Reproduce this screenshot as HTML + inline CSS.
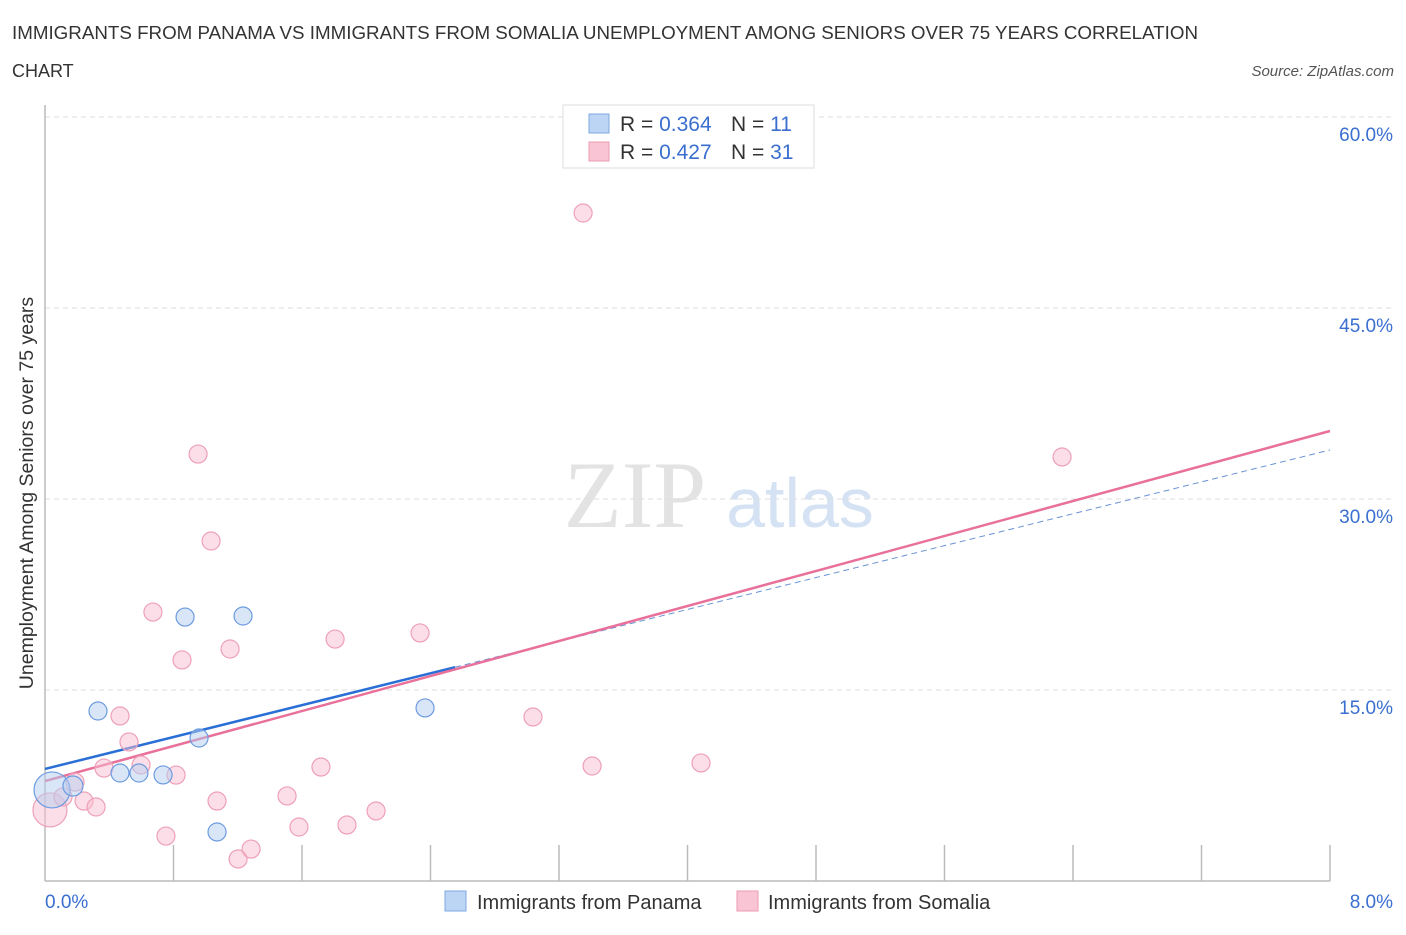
<!DOCTYPE html>
<html><head><meta charset="utf-8"><style>
body{margin:0;background:#fff;font-family:"Liberation Sans",sans-serif;}
</style></head><body>
<svg id="chart" width="1406" height="930" xmlns="http://www.w3.org/2000/svg">
<text x="12" y="39" font-size="18" fill="#333" textLength="1186" lengthAdjust="spacingAndGlyphs">IMMIGRANTS FROM PANAMA VS IMMIGRANTS FROM SOMALIA UNEMPLOYMENT AMONG SENIORS OVER 75 YEARS CORRELATION</text>
<text x="12" y="77" font-size="18" fill="#333">CHART</text>
<text x="1394" y="76" font-size="15" fill="#555" font-style="italic" text-anchor="end">Source: ZipAtlas.com</text>
<text x="33" y="493" font-size="19.5" fill="#333" text-anchor="middle" transform="rotate(-90 33 493)">Unemployment Among Seniors over 75 years</text>
<text x="635" y="527" font-size="95" fill="#e3e3e3" font-family="Liberation Serif,serif" text-anchor="middle">ZIP</text>
<text x="800" y="527" font-size="70" fill="#d4e2f4" text-anchor="middle">atlas</text>
<g id="grid"></g><g id="axes"></g><g id="lines"></g><g id="pts"></g>
<g>
<rect x="563" y="105" width="251" height="63" fill="#fff" stroke="#ddd"/>
<rect x="589" y="114" width="20" height="19" fill="#bdd5f5" stroke="#7ea8e0"/>
<rect x="589" y="142" width="20" height="19" fill="#f9c5d4" stroke="#ec9ab2"/>
<text x="620" y="131" font-size="21" fill="#333">R = <tspan fill="#3a6fd0">0.364</tspan></text>
<text x="731" y="131" font-size="21" fill="#333">N = <tspan fill="#3a6fd0"> 11</tspan></text>
<text x="620" y="159" font-size="21" fill="#333">R = <tspan fill="#3a6fd0">0.427</tspan></text>
<text x="731" y="159" font-size="21" fill="#333">N = <tspan fill="#3a6fd0">31</tspan></text>
</g>
<g>
<rect x="445" y="891" width="21" height="20" fill="#bdd5f5" stroke="#7ea8e0"/>
<text x="477" y="909" font-size="20" fill="#333">Immigrants from Panama</text>
<rect x="737" y="891" width="21" height="20" fill="#f9c5d4" stroke="#ec9ab2"/>
<text x="768" y="909" font-size="20" fill="#333">Immigrants from Somalia</text>
</g>
<text x="45" y="908" font-size="19" fill="#3a6fd0">0.0%</text>
<text x="1393" y="908" font-size="19" fill="#3a6fd0" text-anchor="end">8.0%</text>
</svg>
<script>
const yTicks=[15,30,45,60];
const yTickLabels=["15.0%","30.0%","45.0%","60.0%"];
const panamaX=[0.044,0.174,0.33,0.467,0.585,0.735,0.872,0.959,1.071,1.233,2.366];
const panamaY=[7.15,7.46,13.35,8.48,8.48,8.33,20.73,11.23,3.85,20.81,13.59];
const somaliaX=[0.031,0.112,0.187,0.243,0.318,0.367,0.467,0.523,0.598,0.672,0.753,0.816,0.853,0.953,1.034,1.071,1.152,1.202,1.283,1.507,1.581,1.718,1.806,1.88,2.061,2.335,3.038,3.35,3.406,4.084,6.332];
const somaliaY=[5.58,6.6,7.77,6.28,5.81,8.87,12.96,10.92,9.11,21.12,3.53,8.32,17.36,33.53,26.7,6.28,18.22,1.73,2.51,6.68,4.24,8.95,19.0,4.4,5.5,19.48,12.88,52.46,9.03,9.27,33.3];
const panamaTrend=[8.8,33.85]; // y at x=0 and x=8
const somaliaTrend=[7.85,35.34];
const NS="http://www.w3.org/2000/svg";
const X0=45,X1=1330,Y0=881,PPY=191/15;
const sx=v=>X0+(X1-X0)*v/8, sy=v=>Y0-v*PPY;
function mk(t,a,p){const e=document.createElementNS(NS,t);for(const k in a)e.setAttribute(k,a[k]);p.appendChild(e);return e;}
const grid=document.getElementById('grid'),axes=document.getElementById('axes'),lines=document.getElementById('lines'),pts=document.getElementById('pts');
yTicks.forEach((t,i)=>{
 const l=mk('line',{x1:X0,x2:1395,y1:sy(t),y2:sy(t),stroke:'#ddd','stroke-dasharray':'5,4'},grid);
 
 
 const tx=mk('text',{x:1393,y:sy(t)+24,'font-size':19,fill:'#3a6fd0','text-anchor':'end'},grid);
 tx.textContent=yTickLabels[i];
 
 
});
const ax=mk('line',{x1:X0,x2:X1,y1:Y0,y2:Y0,stroke:'#bbb','stroke-width':1.5},axes);


const ay=mk('line',{x1:X0,x2:X0,y1:105,y2:Y0,stroke:'#bbb','stroke-width':1.5},axes);


for(let i=1;i<=10;i++){const x=X0+i*(X1-X0)/10;
 const tk=mk('line',{x1:x,x2:x,y1:Y0,y2:Y0-36,stroke:'#bbb','stroke-width':1.5},axes);
 
 }
const pEnd=2.553;
const pl=mk('line',{x1:sx(0),y1:sy(panamaTrend[0]),x2:sx(pEnd),y2:sy(panamaTrend[0]+(panamaTrend[1]-panamaTrend[0])*pEnd/8),stroke:'#2a6fd6','stroke-width':2.5},lines);


const pd=mk('line',{x1:sx(pEnd),y1:sy(panamaTrend[0]+(panamaTrend[1]-panamaTrend[0])*pEnd/8),x2:sx(8),y2:sy(panamaTrend[1]),stroke:'#6a93d6','stroke-width':1,'stroke-dasharray':'6,4'},lines);


const sl=mk('line',{x1:sx(0),y1:sy(somaliaTrend[0]),x2:sx(8),y2:sy(somaliaTrend[1]),stroke:'#e8709a','stroke-width':2.5},lines);


somaliaX.forEach((x,i)=>{
 const c=mk('circle',{cx:sx(x),cy:sy(somaliaY[i]),r:i===0?17:9,fill:'rgba(248,190,208,0.5)',stroke:'#eea0b8','stroke-width':1.2},pts);
 
 
});
panamaX.forEach((x,i)=>{
 const c=mk('circle',{cx:sx(x),cy:sy(panamaY[i]),r:i===0?18:(i===1?10:9),fill:'rgba(180,205,240,0.5)',stroke:'#6d9be0','stroke-width':1.2},pts);
 
 
});
</script>
</body></html>
